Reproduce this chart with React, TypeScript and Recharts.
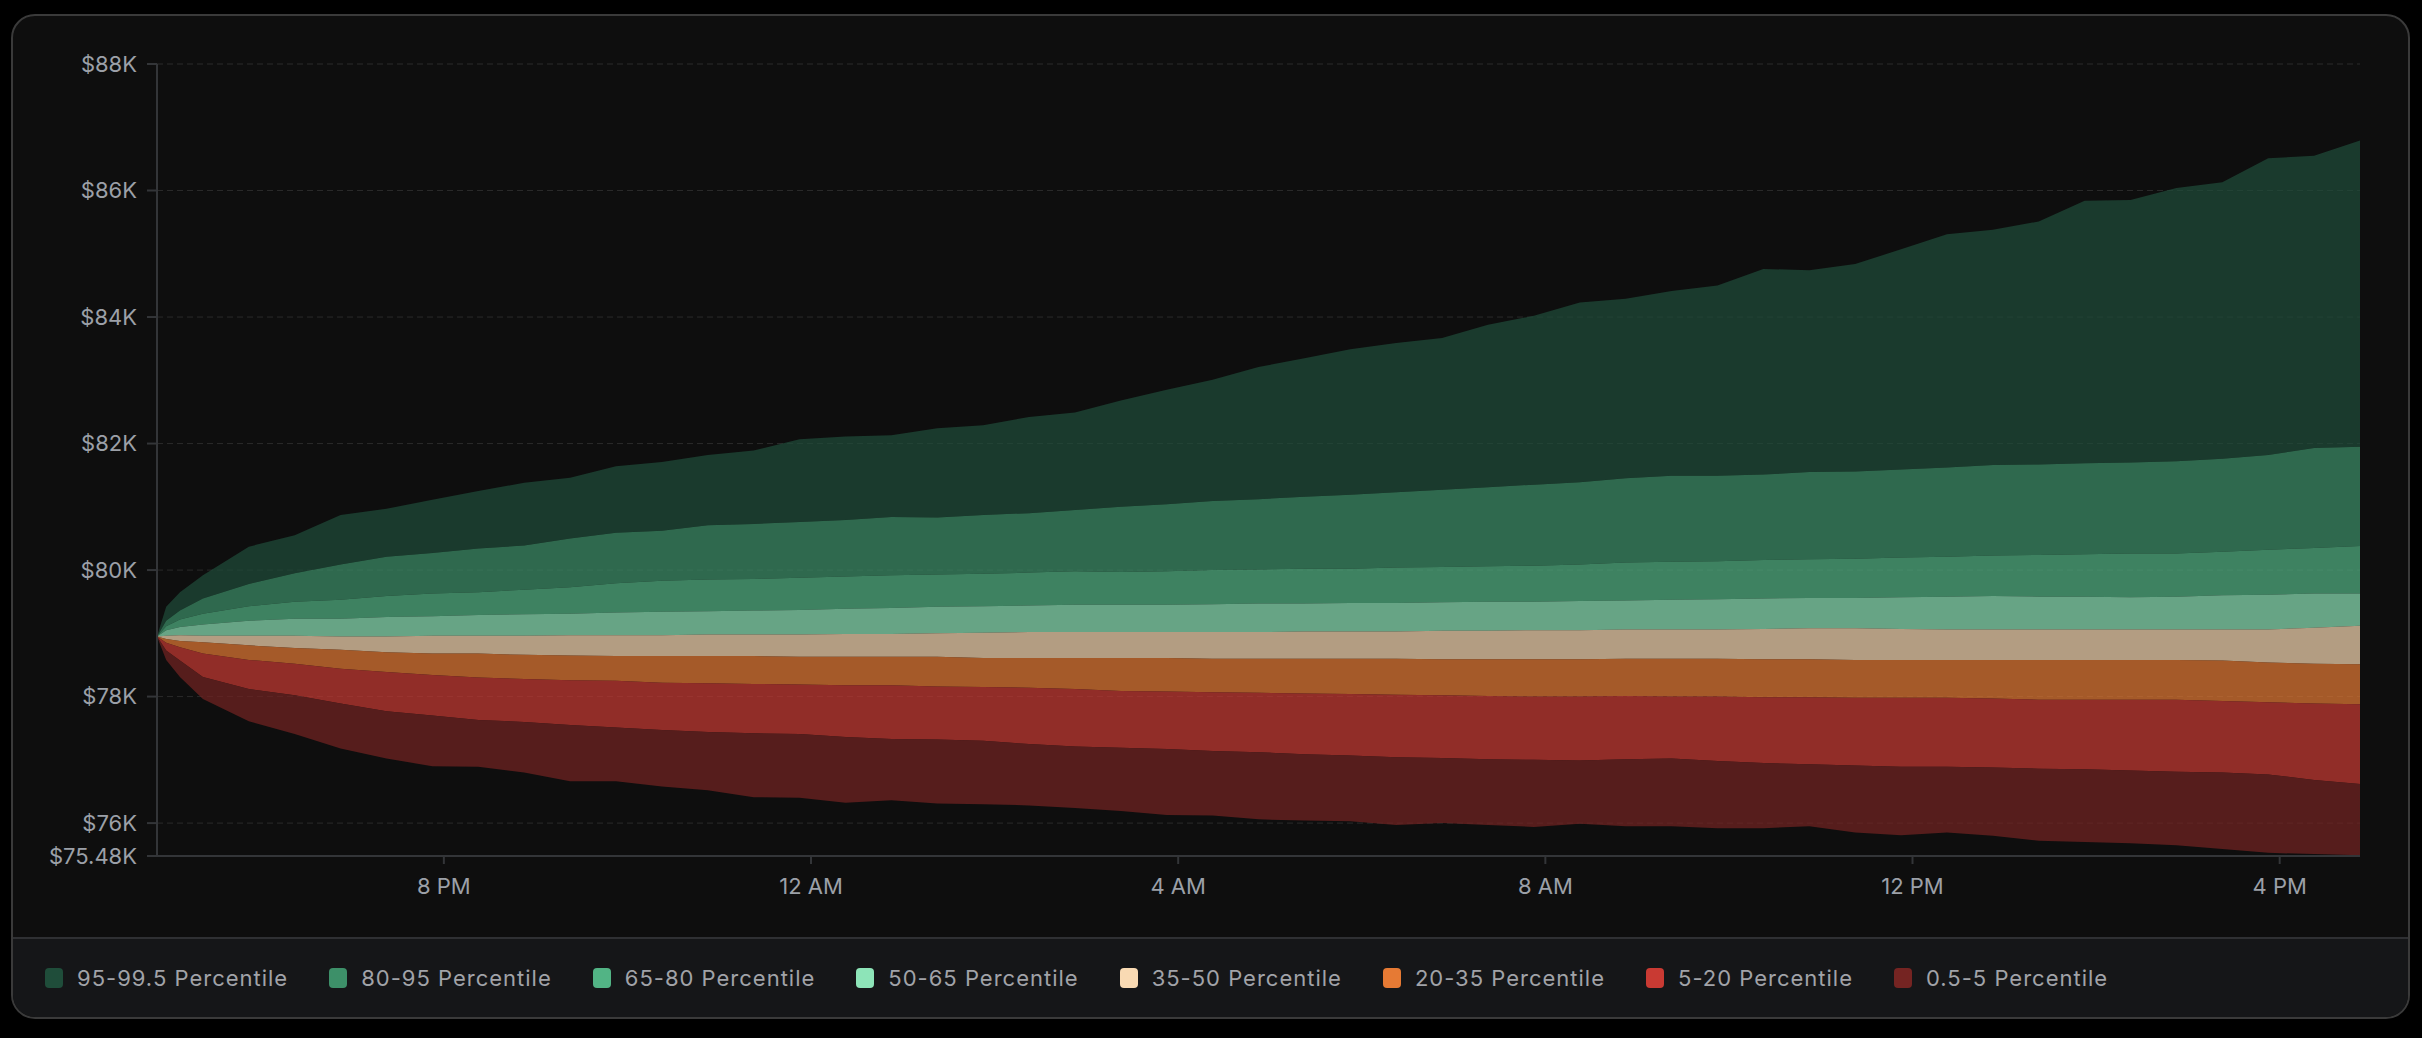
import { AreaChart, Area, XAxis, YAxis, CartesianGrid } from 'recharts';

// hours since midnight of day 1 (16.875 = 4:52:30 PM)
const hours = [
  16.875, 16.975, 17.125, 17.375, 17.875, 18.375, 18.875, 19.375, 19.875, 20.375, 20.875, 21.375, 21.875,
  22.375, 22.875, 23.375, 23.875, 24.375, 24.875, 25.375, 25.875, 26.375, 26.875, 27.375, 27.875, 28.375,
  28.875, 29.375, 29.875, 30.375, 30.875, 31.375, 31.875, 32.375, 32.875, 33.375, 33.875, 34.375, 34.875,
  35.375, 35.875, 36.375, 36.875, 37.375, 37.875, 38.375, 38.875, 39.375, 39.875, 40.375, 40.875,
];

const p995 = [
  78950, 79420, 79650, 79920, 80370, 80550, 80870, 80970, 81110, 81250, 81380, 81460, 81640,
  81710, 81820, 81890, 82070, 82110, 82130, 82240, 82290, 82420, 82490, 82680, 82850, 83010,
  83210, 83350, 83490, 83590, 83670, 83880, 84020, 84230, 84290, 84410, 84500, 84760, 84740,
  84840, 85070, 85310, 85380, 85510, 85840, 85850, 86040, 86130, 86510, 86550, 86790,
];
const p95 = [
  78950, 79200, 79360, 79550, 79780, 79950, 80090, 80210, 80270, 80340, 80390, 80500, 80590,
  80620, 80710, 80730, 80760, 80790, 80840, 80830, 80870, 80900, 80950, 81000, 81040, 81090,
  81120, 81160, 81190, 81230, 81270, 81310, 81350, 81390, 81450, 81490, 81490, 81510, 81550,
  81560, 81590, 81620, 81660, 81670, 81690, 81700, 81720, 81760, 81820, 81930, 81950,
];
const p80 = [
  78950, 79110, 79220, 79310, 79430, 79500, 79530, 79590, 79630, 79650, 79690, 79730, 79790,
  79830, 79850, 79860, 79880, 79900, 79920, 79930, 79940, 79960, 79980, 79970, 79980, 80000,
  80010, 80020, 80020, 80040, 80050, 80060, 80070, 80090, 80120, 80130, 80140, 80160, 80170,
  80180, 80200, 80210, 80230, 80240, 80250, 80260, 80260, 80290, 80320, 80350, 80380,
];
const p65 = [
  78950, 79050, 79100, 79140, 79200, 79230, 79230, 79260, 79270, 79290, 79300, 79310, 79330,
  79340, 79350, 79360, 79370, 79390, 79400, 79420, 79430, 79440, 79450, 79450, 79450, 79460,
  79470, 79470, 79480, 79480, 79490, 79500, 79500, 79510, 79520, 79530, 79540, 79550, 79560,
  79560, 79570, 79580, 79590, 79580, 79580, 79570, 79580, 79600, 79610, 79630, 79630,
];
const p50 = [
  78950, 78960, 78970, 78960, 78960, 78960, 78950, 78950, 78960, 78960, 78960, 78970, 78970,
  78970, 78980, 78980, 78980, 78990, 78990, 79000, 79010, 79020, 79020, 79020, 79020, 79020,
  79020, 79030, 79030, 79030, 79040, 79040, 79050, 79050, 79060, 79060, 79060, 79070, 79080,
  79080, 79070, 79060, 79060, 79060, 79060, 79060, 79060, 79060, 79060, 79090, 79120,
];
const p35 = [
  78950, 78910, 78880, 78860, 78810, 78770, 78740, 78700, 78680, 78680, 78660, 78650, 78640,
  78640, 78640, 78640, 78630, 78630, 78630, 78630, 78610, 78610, 78610, 78610, 78610, 78600,
  78600, 78600, 78600, 78600, 78590, 78590, 78590, 78590, 78600, 78600, 78600, 78590, 78590,
  78580, 78580, 78580, 78580, 78580, 78580, 78580, 78580, 78570, 78540, 78520, 78510,
];
const p20 = [
  78950, 78850, 78780, 78680, 78580, 78520, 78440, 78390, 78340, 78300, 78280, 78260, 78250,
  78220, 78210, 78200, 78190, 78180, 78180, 78160, 78150, 78140, 78120, 78090, 78080, 78070,
  78060, 78050, 78040, 78030, 78020, 78010, 78000, 78000, 78010, 78000, 78000, 77990, 77990,
  77980, 77980, 77980, 77970, 77950, 77950, 77950, 77950, 77930, 77910, 77890, 77880,
];
const p5 = [
  78950, 78730, 78570, 78310, 78120, 78020, 77890, 77770, 77700, 77630, 77600, 77550, 77510,
  77470, 77440, 77420, 77410, 77360, 77330, 77320, 77300, 77250, 77210, 77190, 77170, 77140,
  77120, 77090, 77070, 77040, 77030, 77010, 77000, 76990, 77010, 77020, 76980, 76950, 76930,
  76910, 76890, 76890, 76880, 76860, 76850, 76830, 76810, 76800, 76770, 76680, 76620,
];
const p05 = [
  78950, 78580, 78310, 77960, 77610, 77410, 77180, 77020, 76900, 76890, 76800, 76660, 76660,
  76580, 76520, 76410, 76400, 76320, 76360, 76310, 76300, 76280, 76240, 76190, 76130, 76120,
  76060, 76040, 76030, 75970, 76000, 75970, 75940, 75990, 75950, 75950, 75920, 75920, 75950,
  75850, 75810, 75850, 75800, 75720, 75700, 75680, 75650, 75590, 75530, 75510, 75490,
];

const xTicks = [20, 24, 28, 32, 36, 40];
const yTicks = [75480, 76000, 78000, 80000, 82000, 84000, 86000, 88000];

const bands = [
  { key: 'b95', name: '95-99.5 Percentile', color: '#1f4d3a', lo: p95, hi: p995 },
  { key: 'b80', name: '80-95 Percentile', color: '#3d9069', lo: p80, hi: p95 },
  { key: 'b65', name: '65-80 Percentile', color: '#52b485', lo: p65, hi: p80 },
  { key: 'b50', name: '50-65 Percentile', color: '#8de4b8', lo: p50, hi: p65 },
  { key: 'b35', name: '35-50 Percentile', color: '#f9dab3', lo: p35, hi: p50 },
  { key: 'b20', name: '20-35 Percentile', color: '#e67a34', lo: p20, hi: p35 },
  { key: 'b5', name: '5-20 Percentile', color: '#c93a33', lo: p5, hi: p20 },
  { key: 'b05', name: '0.5-5 Percentile', color: '#752422', lo: p05, hi: p5 },
];

const rows = hours.map((t, i) => {
  const row: Record<string, number | number[]> = { t };
  bands.forEach((b) => { row[b.key] = [b.lo[i], b.hi[i]]; });
  return row;
});

const fmtHour = (h: number) => {
  const hh = h % 24;
  const h12 = hh % 12 === 0 ? 12 : hh % 12;
  return `${h12} ${hh >= 12 ? 'PM' : 'AM'}`;
};
const fmtUsd = (v: number) => `$${+(v / 1000).toFixed(2)}K`;

const TICK = { fill: '#9ca0a8', fontSize: 22 };
const AXIS = '#333538';

export default function App() {
  return (
    <div style={{ position: 'relative', width: 2422, height: 1038, background: '#000', fontFamily: 'Inter, sans-serif' }}>
      <style>{'body{margin:0;background:#000;}'}</style>
      <div
        style={{
          position: 'absolute', left: 11, top: 14, width: 2399, height: 1005, boxSizing: 'border-box',
          border: '2px solid #3a3a3a', borderRadius: 24, background: '#0e0e0e', overflow: 'hidden',
        }}
      >
        <AreaChart width={2395} height={921} data={rows} margin={{ top: 48, right: 48, bottom: 40, left: 0 }}>
          <CartesianGrid vertical={false} stroke="#2a2a2a" strokeDasharray="6 4" />
          <XAxis
            dataKey="t" type="number" domain={[16.875, 40.875]} ticks={xTicks} tickFormatter={fmtHour}
            height={41} tickSize={8} tickMargin={14} tick={TICK}
            axisLine={{ stroke: AXIS, strokeWidth: 2 }} tickLine={{ stroke: AXIS, strokeWidth: 2 }}
          />
          <YAxis
            type="number" domain={[75480, 88000]} ticks={yTicks} tickFormatter={fmtUsd} width={144}
            tickSize={10} tickMargin={10} tick={TICK} allowDataOverflow
            axisLine={{ stroke: AXIS, strokeWidth: 2 }} tickLine={{ stroke: AXIS, strokeWidth: 2 }}
          />
          {bands.map((b) => (
            <Area
              key={b.key} dataKey={b.key} name={b.name} type="linear" stroke="none"
              fill={b.color} fillOpacity={0.7} dot={false} activeDot={false} isAnimationActive={false}
            />
          ))}
        </AreaChart>
        <div
          style={{
            position: 'absolute', left: 0, right: 0, top: 921, bottom: 0, borderTop: '2px solid #2f3033',
            background: '#151618', display: 'flex', alignItems: 'center', paddingLeft: 32, gap: 41,
          }}
        >
          {bands.map((b) => (
            <div key={b.key} style={{ display: 'flex', alignItems: 'center', gap: 14 }}>
              <span style={{ width: 18, height: 20, borderRadius: 4, background: b.color, display: 'inline-block' }} />
              <span style={{ color: '#a1a3a8', fontSize: 22, letterSpacing: 1 }}>{b.name}</span>
            </div>
          ))}
        </div>
      </div>
    </div>
  );
}
